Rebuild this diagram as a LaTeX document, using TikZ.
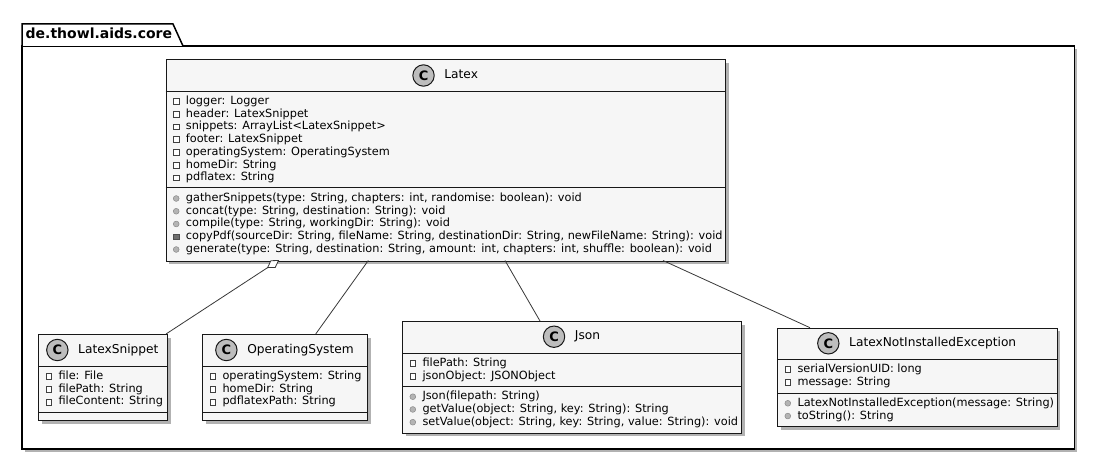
\documentclass[tikz,border=0pt]{standalone}
\usepackage{fontspec}
\setmainfont{DejaVu Sans}
\usetikzlibrary{shadows,arrows.meta,calc}
\definecolor{boxfill}{HTML}{F6F6F6}
\definecolor{linec}{HTML}{181818}
\definecolor{circfill}{HTML}{BDBDBD}
\definecolor{connc}{HTML}{383838}
\definecolor{pubfill}{HTML}{B4B4B4}
\definecolor{publine}{HTML}{8A8A8A}
\definecolor{privm}{HTML}{6E6E6E}
\newcommand\memfont{\fontsize{11.3}{13}\selectfont}
\newcommand\ttlfont{\fontsize{12.2}{14}\selectfont}
\newcommand\cfont{\fontsize{13}{14}\selectfont\bfseries}
\newcommand\pkgfont{\fontsize{14}{16}\selectfont\bfseries}
\newcommand\fieldrow[4]{\node[fldicon] (#1i) at (#2+10.5,#3) {}; \node[mem] (#1) at (#2+20,#3) {#4};}
\newcommand\methrow[4]{\node[pubicon] (#1i) at (#2+10.5,#3) {}; \node[mem] (#1) at (#2+20,#3) {#4};}
\newcommand\privmethrow[4]{\node[privmicon] (#1i) at (#2+10.5,#3) {}; \node[mem] (#1) at (#2+20,#3) {#4};}
\newcommand\clstitle[4]{\node[ttl] (#1t) at (#2+15.7,#3) {#4}; \node[cc] (#1c) at ($(#1t.west)+(-20.7,0)$) {C};}
\tikzset{
  box/.style={draw=linec, line width=1pt, fill=boxfill, inner sep=0pt, anchor=north west,
    drop shadow={shadow xshift=3pt, shadow yshift=-3pt, opacity=0.3, fill=black}},
  sepl/.style={draw=linec, line width=1pt},
  mem/.style={anchor=west, inner sep=0pt, font=\memfont, text height=8.3pt, text depth=2.4pt},
  ttl/.style={inner sep=0pt, font=\ttlfont, text height=9pt, text depth=2.6pt},
  cc/.style={circle, draw=linec, line width=1pt, fill=circfill, minimum size=21.4pt, inner sep=0pt, font=\cfont},
  fldicon/.style={rectangle, draw=black!75, line width=0.6pt, fill=white, minimum size=5.6pt, inner sep=0pt},
  pubicon/.style={circle, draw=publine, fill=pubfill, line width=0.5pt, minimum size=5.8pt, inner sep=0pt},
  privmicon/.style={rectangle, draw=privm!70!black, fill=privm, line width=0.5pt, minimum size=5.8pt, inner sep=0pt},
  conn/.style={draw=connc, line width=0.8pt},
  aggdiamond/.style={draw=connc, line width=0.8pt, fill=white, line join=miter},
  pkgline/.style={draw=black, line width=1.5pt}
}
\begin{document}
\begin{tikzpicture}[x=1pt,y=-1pt]
\fill[white] (0,0) rectangle (1094,460);
\path[use as bounding box] (0,0) rectangle (1094,460);
% package
\path[pkgline, fill=white, drop shadow={shadow xshift=3pt, shadow yshift=-3pt, opacity=0.3, fill=black}]
  (22,46) rectangle (1074.3,449);
\path[pkgline, fill=white] (22,46) -- (22,24) -- (173,24) -- (183,46);
\node[anchor=west, inner sep=0pt, font=\pkgfont, text height=10pt, text depth=3pt] (pkgname) at (25.5,35) {de.thowl.aids.core};

% Latex
\node[box, minimum width=559.6pt, minimum height=201pt] (latex) at (165.7,59.5) {};
\draw[sepl] (165.7,91.5) -- (725.3,91.5);
\draw[sepl] (165.7,187.5) -- (725.3,187.5);
\clstitle{la}{445.5}{75.5}{Latex}
\fieldrow{la1}{165.7}{101.3}{logger: Logger}
\fieldrow{la2}{165.7}{114.05}{header: LatexSnippet}
\fieldrow{la3}{165.7}{126.8}{snippets: ArrayList<LatexSnippet>}
\fieldrow{la4}{165.7}{139.55}{footer: LatexSnippet}
\fieldrow{la5}{165.7}{152.3}{operatingSystem: OperatingSystem}
\fieldrow{la6}{165.7}{165.05}{homeDir: String}
\fieldrow{la7}{165.7}{177.8}{pdflatex: String}
\methrow{lm1}{165.7}{198.5}{gatherSnippets(type: String, chapters: int, randomise: boolean): void}
\methrow{lm2}{165.7}{211.25}{concat(type: String, destination: String): void}
\methrow{lm3}{165.7}{224}{compile(type: String, workingDir: String): void}
\privmethrow{lm4}{165.7}{236.75}{copyPdf(sourceDir: String, fileName: String, destinationDir: String, newFileName: String): void}
\methrow{lm5}{165.7}{249.5}{generate(type: String, destination: String, amount: int, chapters: int, shuffle: boolean): void}

% LatexSnippet
\node[box, minimum width=128.7pt, minimum height=86pt] (ls) at (38.3,334) {};
\draw[sepl] (38.3,366.5) -- (167,366.5);
\draw[sepl] (38.3,412) -- (167,412);
\clstitle{ls}{102.65}{350}{LatexSnippet}
\fieldrow{ls1}{38.3}{376.5}{file: File}
\fieldrow{ls2}{38.3}{389.25}{filePath: String}
\fieldrow{ls3}{38.3}{402}{fileContent: String}

% OperatingSystem
\node[box, minimum width=165pt, minimum height=86pt] (os) at (202.3,334) {};
\draw[sepl] (202.3,366.5) -- (367.3,366.5);
\draw[sepl] (202.3,412) -- (367.3,412);
\clstitle{os}{284.8}{350}{OperatingSystem}
\fieldrow{os1}{202.3}{376.5}{operatingSystem: String}
\fieldrow{os2}{202.3}{389.25}{homeDir: String}
\fieldrow{os3}{202.3}{402}{pdflatexPath: String}

% Json
\node[box, minimum width=339pt, minimum height=111.7pt] (json) at (402.3,321) {};
\draw[sepl] (402.3,353.3) -- (741.3,353.3);
\draw[sepl] (402.3,386) -- (741.3,386);
\clstitle{js}{571.8}{336.7}{Json}
\fieldrow{js1}{402.3}{363.3}{filePath: String}
\fieldrow{js2}{402.3}{376.05}{jsonObject: JSONObject}
\methrow{jm1}{402.3}{396.7}{Json(filepath: String)}
\methrow{jm2}{402.3}{409.45}{getValue(object: String, key: String): String}
\methrow{jm3}{402.3}{422.2}{setValue(object: String, key: String, value: String): void}

% LatexNotInstalledException
\node[box, minimum width=279.4pt, minimum height=98.3pt] (lnie) at (777.3,327.7) {};
\draw[sepl] (777.3,359) -- (1056.7,359);
\draw[sepl] (777.3,393) -- (1056.7,393);
\clstitle{ex}{917}{343.3}{LatexNotInstalledException}
\fieldrow{ex1}{777.3}{369.3}{serialVersionUID: long}
\fieldrow{ex2}{777.3}{382.05}{message: String}
\methrow{em1}{777.3}{403.3}{LatexNotInstalledException(message: String)}
\methrow{em2}{777.3}{416.05}{toString(): String}

% connectors
\coordinate (agA) at (278.5,260.5);
\coordinate (agB) at (166,334);
\coordinate (agD) at ($(agA)!13pt!(agB)$);
\coordinate (agS1) at ($(agA)!0.5!(agD)!4pt!90:(agD)$);
\coordinate (agS2) at ($(agA)!0.5!(agD)!4pt!-90:(agD)$);
\coordinate (osA) at (368.3,260.5);
\coordinate (osB) at (315.7,334);
\coordinate (jsA) at (505,260.5);
\coordinate (jsB) at (540,321);
\coordinate (exA) at (663,260.5);
\coordinate (exB) at (810,327.7);
\draw[conn] (agD) -- (agB);
\draw[aggdiamond] (agA) -- (agS1) -- (agD) -- (agS2) -- cycle;
\draw[conn] (osA) -- (osB);
\draw[conn] (jsA) -- (jsB);
\draw[conn] (exA) -- (exB);
\end{tikzpicture}
\end{document}
